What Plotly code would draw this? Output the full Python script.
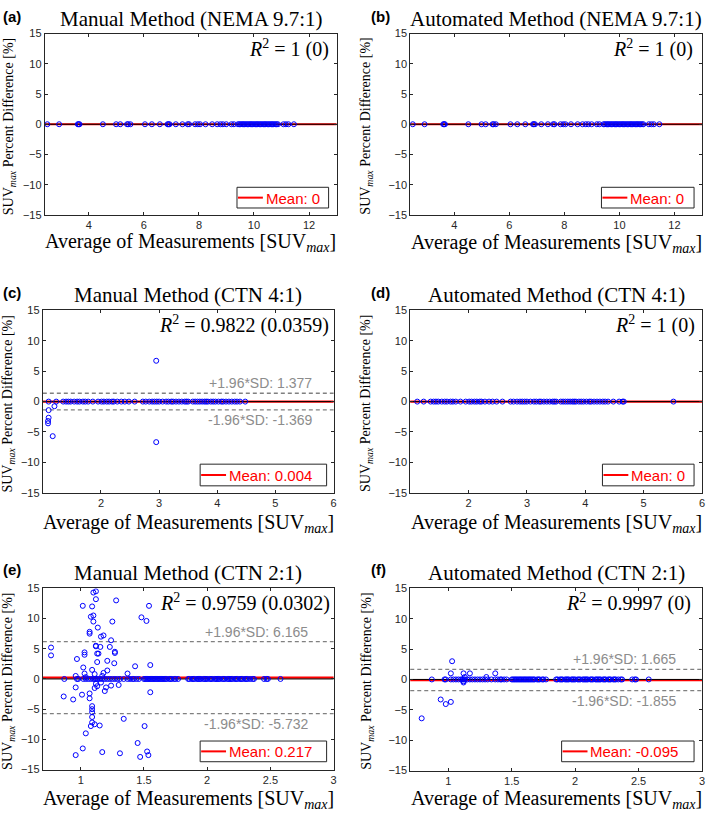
import plotly.graph_objects as go

W, H = 709, 816

# ---------------- data ----------------
# NEMA 9.7:1 (panels a, b)
nema_avg = [2.49, 2.92, 3.60, 3.63, 3.66, 4.51, 4.99, 5.14, 5.39, 5.43, 5.51, 6.04, 6.29, 6.58,
            6.86, 6.89, 6.93, 7.16, 7.40, 7.59, 7.64, 7.86, 7.96, 8.04, 8.24, 8.48, 8.66, 8.78,
            8.87, 8.99, 9.18, 9.27, 9.42, 9.47, 9.52, 9.57, 9.61, 9.66, 9.71, 9.76, 9.81, 9.86,
            9.90, 9.95, 10.00, 10.05, 10.10, 10.14, 10.19, 10.24, 10.29, 10.34, 10.39, 10.43,
            10.48, 10.53, 10.58, 10.63, 10.67, 10.72, 10.77, 10.82, 10.87, 11.07, 11.16, 11.25, 11.45]
nema_manual_diff = [0, 0, 0, 0, 0, 0, 0, 0, 0, 0, 0, 0, 0, 0, 0, 0, 0, 0, 0, 0, 0, 0, 0, 0, 0, 0, 0, 0,
                    0, 0, 0, 0, 0, 0, 0, 0, 0, 0, 0, 0, 0, 0, 0, 0, 0, 0, 0, 0, 0, 0, 0, 0, 0, 0,
                    0, 0, 0, 0, 0, 0, 0, 0, 0, 0, 0, 0, 0]
nema_auto_diff = [0, 0, 0, 0, 0, 0, 0, 0, 0, 0, 0, 0, 0, 0, 0, 0, 0, 0, 0, 0, 0, 0, 0, 0, 0, 0, 0, 0,
                  0, 0, 0, 0, 0, 0, 0, 0, 0, 0, 0, 0, 0, 0, 0, 0, 0, 0, 0, 0, 0, 0, 0, 0, 0, 0,
                  0, 0, 0, 0, 0, 0, 0, 0, 0, 0, 0, 0, 0]

# CTN 4:1 (panels c, d)
ctn4_avg = [1.12, 1.23, 1.35, 1.40, 1.44, 1.48, 1.54, 1.59, 1.63, 1.69, 1.73, 1.78, 1.86, 1.95,
            2.01, 2.05, 2.10, 2.14, 2.19, 2.22, 2.28, 2.35, 2.41, 2.48, 2.58, 2.72, 2.77, 2.83,
            2.88, 2.92, 2.96, 3.00, 3.06, 3.12, 3.16, 3.21, 3.24, 3.29, 3.34, 3.39, 3.44, 3.47,
            3.50, 3.58, 3.62, 3.66, 3.70, 3.74, 3.78, 3.81, 3.84, 3.89, 3.93, 3.97, 4.02, 4.07,
            4.10, 4.15, 4.20, 4.25, 4.30, 4.34, 4.39, 4.48, 4.58, 4.64, 4.66, 5.51]
ctn4_auto_diff = [0, 0, 0, 0, 0, 0, 0, 0, 0, 0, 0, 0, 0, 0, 0, 0, 0, 0, 0, 0, 0, 0, 0, 0, 0, 0, 0, 0,
                  0, 0, 0, 0, 0, 0, 0, 0, 0, 0, 0, 0, 0, 0, 0, 0, 0, 0, 0, 0, 0, 0, 0, 0, 0, 0,
                  0, 0, 0, 0, 0, 0, 0, 0, 0, 0, 0, 0, 0, 0]
ctn4_manual_avg = [1.10, 1.10, 1.09, 1.09, 1.17, 1.20, 2.95, 2.95,
                   1.10, 1.23, 1.35, 1.40, 1.44, 1.48, 1.54, 1.59, 1.63, 1.69, 1.73, 1.78, 1.86, 1.95,
                   2.01, 2.05, 2.10, 2.14, 2.19, 2.22, 2.28, 2.35, 2.41, 2.48, 2.58, 2.72, 2.77, 2.83,
                   2.88, 2.92, 2.96, 3.00, 3.06, 3.12, 3.16, 3.21, 3.24, 3.29, 3.34, 3.39, 3.44, 3.47,
                   3.50, 3.58, 3.62, 3.66, 3.70, 3.74, 3.78, 3.81, 3.84, 3.89, 3.93, 3.97, 4.02, 4.07,
                   4.10, 4.15, 4.20, 4.25, 4.30, 4.34, 4.39, 4.48, 4.58, 4.64, 4.66, 5.51]
ctn4_manual_diff = [-1.41, -2.66, -3.20, -3.58, -5.69, -0.76, 6.72, -6.67,
                    0, 0, 0, 0, 0, 0, 0, 0, 0, 0, 0, 0, 0, 0, 0, 0, 0, 0, 0, 0, 0, 0, 0, 0, 0, 0,
                    0, 0, 0, 0, 0, 0, 0, 0, 0, 0, 0, 0, 0, 0, 0, 0, 0, 0, 0, 0, 0, 0, 0, 0, 0, 0,
                    0, 0, 0, 0, 0, 0, 0, 0, 0, 0, 0, 0]

# CTN 2:1 (panels e, f) - points lying on zero difference
ctn2_zero_avg = [0.87, 0.97, 0.98, 1.02, 1.04, 1.06, 1.08, 1.10, 1.11, 1.12, 1.13, 1.15, 1.17, 1.19,
                 1.21, 1.23, 1.25, 1.27, 1.29, 1.31, 1.34, 1.37, 1.39, 1.41, 1.42, 1.44, 1.46, 1.50,
                 1.51, 1.52, 1.53, 1.54, 1.55, 1.56, 1.57, 1.58, 1.59, 1.60, 1.61, 1.62, 1.63, 1.64,
                 1.65, 1.66, 1.67, 1.68, 1.70, 1.71, 1.72, 1.74, 1.75, 1.77, 1.85, 1.86, 1.88, 1.89,
                 1.90, 1.92, 1.93, 1.94, 1.95, 1.97, 1.98, 1.99, 2.00, 2.02, 2.03, 2.04, 2.06, 2.07,
                 2.08, 2.09, 2.10, 2.12, 2.13, 2.14, 2.16, 2.17, 2.18, 2.19, 2.20, 2.22, 2.23, 2.24,
                 2.26, 2.27, 2.28, 2.30, 2.31, 2.32, 2.34, 2.36, 2.37, 2.45, 2.47, 2.48, 2.58]
ctn2_zero_diff = [0, 0, 0, 0, 0, 0, 0, 0, 0, 0, 0, 0, 0, 0, 0, 0, 0, 0, 0, 0, 0, 0, 0, 0, 0, 0, 0, 0,
                  0, 0, 0, 0, 0, 0, 0, 0, 0, 0, 0, 0, 0, 0, 0, 0, 0, 0, 0, 0, 0, 0, 0, 0, 0, 0, 0, 0,
                  0, 0, 0, 0, 0, 0, 0, 0, 0, 0, 0, 0, 0, 0, 0, 0, 0, 0, 0, 0, 0, 0, 0, 0, 0, 0, 0, 0,
                  0, 0, 0, 0, 0, 0, 0, 0, 0, 0, 0, 0, 0]
ctn2_manual_avg = [0.765, 0.765, 0.865, 0.94, 0.96, 0.97, 0.96, 1.016, 1.016, 1.03, 1.03, 1.02, 1.03,
                   1.01, 1.04, 1.07, 1.07, 1.07, 1.07, 1.08, 1.09, 1.10, 1.10, 1.12, 1.12, 1.10, 1.09,
                   1.09, 1.09, 1.09, 1.09, 1.09, 1.08, 1.11, 1.12, 1.12, 1.13, 1.13, 1.135, 1.14, 1.16,
                   1.18, 1.15, 1.155, 1.18, 1.17, 1.19, 1.20, 1.21, 1.21, 1.24, 1.23, 1.25, 1.24, 1.265,
                   1.27, 1.27, 1.28, 1.30, 1.31, 1.34, 1.37, 1.43, 1.45, 1.47, 1.48, 1.505, 1.52, 1.525,
                   1.535, 1.54, 1.55, 1.55, 1.11, 1.12, 1.13, 1.16, 1.11, 1.17, 0.96, 1.04]
ctn2_manual_diff = [3.9, 5.2, -2.9, -3.4, -1.4, 3.3, -12.6, -11.5, 12.1, 4.0, 4.4, 1.9, 0.9,
                    -2.6, -9.0, -3.2, -2.4, 7.5, 7.8, 10.3, 12.0, 10.5, 14.3, 14.5, 13.2, 9.5, 1.5,
                    -4.5, -5.0, -5.5, -6.3, -7.2, -7.8, -7.5, 5.5, 5.4, 4.2, 2.8, 8.5, 4.2, 7.0,
                    7.2, -7.7, 5.3, 1.0, -12.1, -2.0, -1.4, 3.0, 1.4, 6.4, 5.3, 9.5, -1.1, 2.6,
                    4.5, 4.3, 13.0, -1.0, -12.3, -6.6, 0.9, 2.1, -10.6, -12.9, 10.2, -7.8, 9.6, -12.0,
                    -12.6, 12.1, 2.3, -2.2, -1.5, -0.8, -1.2, -0.6, 0.8, 0.5, 0.5, 0.3]
ctn2_auto_avg = [0.79, 0.94, 0.98, 1.02, 1.03, 1.02, 1.12, 1.12, 1.12, 1.13, 1.17, 1.30, 1.37]
ctn2_auto_diff = [-6.4, -3.3, -4.05, -3.7, 3.0, 1.0, -0.3, -0.5, 1.0, 0.4, 1.0, 0.4, 1.0]

titles = ["Manual Method (NEMA 9.7:1)", "Automated Method (NEMA 9.7:1)",
          "Manual Method (CTN 4:1)", "Automated Method (CTN 4:1)",
          "Manual Method (CTN 2:1)", "Automated Method (CTN 2:1)"]
panel_tags = ["(a)", "(b)", "(c)", "(d)", "(e)", "(f)"]
r2_texts = ["1 (0)", "1 (0)", "0.9822 (0.0359)", "1 (0)", "0.9759 (0.0302)", "0.9997 (0)"]
mean_vals = [0, 0, 0.004, 0, 0.217, -0.095]
mean_labels = ["0", "0", "0.004", "0", "0.217", "-0.095"]
upper_loa = [None, None, 1.377, None, 6.165, 1.665]
lower_loa = [None, None, -1.369, None, -5.732, -1.855]
x_ranges = [[2.4, 13], [2.4, 13], [1.0, 6], [1.0, 6], [0.7, 3], [0.7, 3]]
x_ticks = [[4, 6, 8, 10, 12], [4, 6, 8, 10, 12], [2, 3, 4, 5, 6], [2, 3, 4, 5, 6],
           [1, 1.5, 2, 2.5, 3], [1, 1.5, 2, 2.5, 3]]
y_ticks = [-15, -10, -5, 0, 5, 10, 15]

series = [
    [(nema_avg, nema_manual_diff)],
    [(nema_avg, nema_auto_diff)],
    [(ctn4_manual_avg, ctn4_manual_diff)],
    [(ctn4_avg, ctn4_auto_diff)],
    [(ctn2_zero_avg, ctn2_zero_diff), (ctn2_manual_avg, ctn2_manual_diff)],
    [(ctn2_zero_avg, ctn2_zero_diff), (ctn2_auto_avg, ctn2_auto_diff)],
]

# ---------------- layout geometry (pixels) ----------------
boxes = [(45, 338, 28, 212), (412, 705, 28, 212),
         (43, 335, 309, 494), (412, 705, 309, 494),
         (43, 335, 591, 775), (412, 705, 591, 776)]
title_y = [13, 13, 293, 293, 575, 575]
tag_xy = [(12, 11), (382, 11), (12, 291), (382, 291), (12, 572), (380, 572)]
r2_xy = [(332, 43), (698, 43), (332, 323), (700, 323), (333, 605), (696, 605)]
xtitle_y = [240, 241, 525, 525, 805, 805]
ytitle_x = [9, 368, 9, 368, 9, 369]
legend_box = [(238, 330, 184, 205), (604, 697, 184, 205),
              (201, 328, 465, 487), (605, 697, 465, 487),
              (201, 328, 746, 767), (564, 697, 746, 767)]
loa_label_x = [None, None, 5.67, None, 2.81, 2.81]


def PX(p):
    return p / W


def PY(p):
    return 1 - p / H


AX = "#262626"
SERIF = "Liberation Serif"
SANS = "Liberation Sans"

fig = go.Figure()
shapes = []
annotations = []
layout = {}

for i in range(6):
    n = "" if i == 0 else str(i + 1)
    xa, ya = "x" + n, "y" + n
    l, r, t, b = boxes[i]
    layout["xaxis" + n] = dict(
        domain=[PX(l), PX(r)], anchor=ya, range=x_ranges[i], tickvals=x_ticks[i],
        showline=True, mirror="ticks", linecolor=AX, linewidth=1, ticks="inside",
        ticklen=3, tickcolor=AX, showgrid=False, zeroline=False,
        tickfont=dict(family=SANS, size=11, color=AX))
    layout["yaxis" + n] = dict(
        domain=[PY(b), PY(t)], anchor=xa, range=[-15, 15], tickvals=y_ticks,
        showline=True, mirror="ticks", linecolor=AX, linewidth=1, ticks="inside",
        ticklen=3, tickcolor=AX, showgrid=False, zeroline=False,
        tickfont=dict(family=SANS, size=11, color=AX))

    # horizontal reference lines
    shapes.append(dict(type="line", xref=xa + " domain", x0=0, x1=1, yref=ya,
                       y0=mean_vals[i], y1=mean_vals[i], layer="below",
                       line=dict(color="#ff0000", width=2.2)))
    shapes.append(dict(type="line", xref=xa + " domain", x0=0, x1=1, yref=ya,
                       y0=0, y1=0, layer="below", line=dict(color="#000000", width=1)))
    for v, anchor, lab in [(upper_loa[i], "bottom", "+1.96*SD: "), (lower_loa[i], "top", "-1.96*SD: ")]:
        if v is None:
            continue
        shapes.append(dict(type="line", xref=xa + " domain", x0=0, x1=1, yref=ya,
                           y0=v, y1=v, layer="below",
                           line=dict(color="#808080", width=1.3, dash="4px,3px")))
        annotations.append(dict(xref=xa, yref=ya, x=loa_label_x[i], y=v, text=lab + str(v),
                                xanchor="right", yanchor=anchor, showarrow=False,
                                font=dict(family=SANS, size=14, color="#8c8c8c")))

    for sx, sy in series[i]:
        fig.add_trace(go.Scatter(x=sx, y=sy, xaxis=xa, yaxis=ya, mode="markers",
                                 marker=dict(symbol="circle-open", size=5, color="#0000ff",
                                             line=dict(width=1, color="#0000ff")),
                                 showlegend=False, hoverinfo="skip"))

    # title
    annotations.append(dict(xref="paper", yref="paper", x=PX((l + r) / 2), y=PY(title_y[i]),
                            text=titles[i], showarrow=False, xanchor="center", yanchor="middle",
                            font=dict(family=SERIF, size=21, color="#000000")))
    # panel tag
    annotations.append(dict(xref="paper", yref="paper", x=PX(tag_xy[i][0]), y=PY(tag_xy[i][1]),
                            text="<b>" + panel_tags[i] + "</b>", showarrow=False,
                            xanchor="center", yanchor="middle",
                            font=dict(family=SANS, size=15, color="#000000")))
    # R^2
    annotations.append(dict(xref="paper", yref="paper", x=PX(r2_xy[i][0]), y=PY(r2_xy[i][1]),
                            text="<i>R</i><sup>2</sup> = " + r2_texts[i], showarrow=False,
                            xanchor="right", yanchor="middle",
                            font=dict(family=SERIF, size=20, color="#000000")))
    # x title
    annotations.append(dict(xref="paper", yref="paper", x=PX((l + r) / 2), y=PY(xtitle_y[i]),
                            text="Average of Measurements [SUV<sub><i>max</i></sub>]",
                            showarrow=False, xanchor="center", yanchor="middle",
                            font=dict(family=SERIF, size=20, color="#000000")))
    # y title
    annotations.append(dict(xref="paper", yref="paper", x=PX(ytitle_x[i]), y=PY((t + b) / 2 + 2),
                            text="SUV<sub><i>max</i></sub> Percent Difference [%]",
                            showarrow=False, xanchor="center", yanchor="middle", textangle=-90,
                            font=dict(family=SERIF, size=14, color="#000000")))
    # legend box
    bl, br, bt, bb = legend_box[i]
    shapes.append(dict(type="rect", xref="paper", yref="paper", x0=PX(bl), x1=PX(br),
                       y0=PY(bb), y1=PY(bt), fillcolor="#ffffff", layer="above",
                       line=dict(color=AX, width=1)))
    ym = (bt + bb) / 2
    shapes.append(dict(type="line", xref="paper", yref="paper", x0=PX(bl + 1), x1=PX(bl + 26),
                       y0=PY(ym), y1=PY(ym), layer="above", line=dict(color="#ff0000", width=2)))
    annotations.append(dict(xref="paper", yref="paper", x=PX(bl + 27), y=PY(ym + 0.5),
                            text="Mean: " + mean_labels[i], showarrow=False,
                            xanchor="left", yanchor="middle",
                            font=dict(family=SANS, size=15, color="#ff0000")))

fig.update_layout(**layout)
fig.update_layout(width=W, height=H, margin=dict(l=0, r=0, t=0, b=0),
                  paper_bgcolor="#ffffff", plot_bgcolor="#ffffff",
                  shapes=shapes, annotations=annotations, showlegend=False)

fig.write_html("out.html", config={"displayModeBar": False},
               post_script="document.body.style.margin='0';document.body.style.overflow='hidden';")
